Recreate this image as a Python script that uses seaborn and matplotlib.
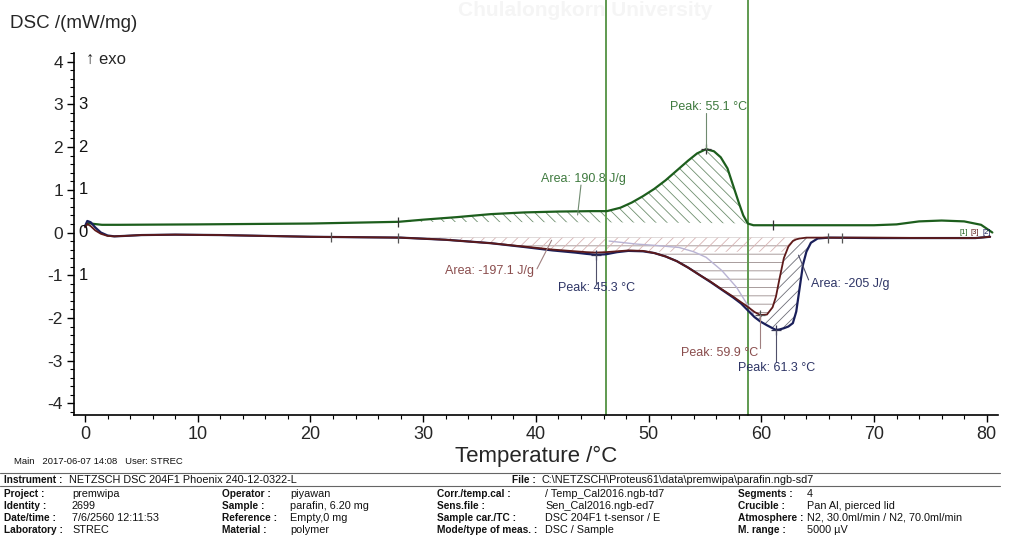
import numpy as np
import matplotlib
matplotlib.use("Agg")
import matplotlib.pyplot as plt
import seaborn as sns
from matplotlib.ticker import MultipleLocator

# ---------------- data ----------------
cool_T = [0.0, 0.3, 0.8, 1.5, 3, 10, 20, 27.8, 30, 33, 36, 39, 42, 45, 46.3, 47.5,
          48.5, 49.5, 50.5, 51.5, 52.5, 53.5, 54.3, 55.1, 55.8, 56.4, 57.0, 57.5,
          58.0, 58.4, 58.8, 59.3, 61, 65, 70, 72, 74, 76, 78, 79.5, 80.5]
cool_dsc = [0.15, 0.22, 0.2, 0.18, 0.18, 0.19, 0.21, 0.25, 0.3, 0.36, 0.43, 0.47, 0.49,
            0.5, 0.5, 0.58, 0.7, 0.85, 1.02, 1.22, 1.45, 1.68, 1.85, 1.95, 1.9, 1.76,
            1.5, 1.1, 0.7, 0.4, 0.21, 0.17, 0.17, 0.17, 0.17, 0.19, 0.26, 0.28, 0.26,
            0.18, 0.0]

heat_T = [0.0, 0.2, 0.5, 0.9, 1.4, 2.0, 2.6, 3.5, 5, 8, 12, 16, 20, 24, 28, 32, 36, 39,
          41.5, 43.5, 44.5, 45.3, 46.2, 47.2, 48.2, 49.5, 50.5, 51.5, 52.5, 53.5, 54.5,
          55.5, 56.5, 57.5, 58.2, 58.8, 59.4, 59.9, 60.5, 61.0, 61.3, 61.6, 62.0, 62.4,
          62.8, 63.1, 63.4, 63.7, 64.0, 64.4, 65.0, 66, 70, 75, 79, 80.3]
heat1_dsc = [0.12, 0.2, 0.15, 0.05, -0.03, -0.08, -0.09, -0.08, -0.06, -0.05, -0.06,
             -0.08, -0.1, -0.11, -0.12, -0.17, -0.25, -0.33, -0.4, -0.44, -0.46, -0.47,
             -0.46, -0.44, -0.42, -0.43, -0.48, -0.56, -0.67, -0.82, -0.99, -1.15, -1.33,
             -1.5, -1.63, -1.74, -1.86, -1.93, -1.92, -1.75, -1.5, -1.1, -0.6, -0.33,
             -0.2, -0.16, -0.14, -0.13, -0.12, -0.12, -0.12, -0.12, -0.12, -0.13, -0.13,
             -0.1]
heat2_dsc = [0.15, 0.27, 0.24, 0.12, 0.0, -0.07, -0.09, -0.08, -0.06, -0.05, -0.06,
             -0.08, -0.1, -0.11, -0.12, -0.17, -0.25, -0.34, -0.42, -0.47, -0.5, -0.52,
             -0.51, -0.46, -0.43, -0.44, -0.48, -0.56, -0.67, -0.82, -0.99, -1.16, -1.34,
             -1.52, -1.66, -1.82, -1.98, -2.08, -2.17, -2.24, -2.28, -2.27, -2.24, -2.2,
             -2.12, -1.85, -1.3, -0.75, -0.45, -0.24, -0.14, -0.12, -0.13, -0.13, -0.13,
             -0.1]

aux_T = [46.5, 48.9, 50.5, 52.7, 54.0, 55.1, 56.5, 57.8, 58.7, 59.3]
aux_dsc = [-0.2, -0.27, -0.3, -0.35, -0.45, -0.58, -0.89, -1.28, -1.66, -1.9]

peak_cool = (55.1, 1.95)
peak_h1 = (59.9, -1.93)
peak_h2a = (45.3, -0.52)
peak_h2b = (61.3, -2.28)
area_cool = "Area: 190.8 J/g"
area_h1 = "Area: -197.1 J/g"
area_h2 = "Area: -205 J/g"

cool_limits = [27.8, 58.8]
heat1_limits = [28.0, 63.4]
heat2_limits = [28.0, 65.0]
heat_marks_T = [21.8, 27.8, 65.9, 67.2]
cool_marks_T = [27.8, 61.0]
vlines_T = [46.2, 58.8]

x_ticks = [0, 10, 20, 30, 40, 50, 60, 70, 80]
y_ticks = [-4, -3, -2, -1, 0, 1, 2, 3, 4]
inner_labels = {3: "3", 2: "2", 1: "1", 0: "0", -1: "1"}

# ---------------- style ----------------
sns.set_theme(style="white")
plt.rcParams["font.family"] = ["Liberation Sans", "DejaVu Sans"]
plt.rcParams["hatch.linewidth"] = 0.6
plt.rcParams["axes.unicode_minus"] = False

GREEN = "#1d5e1d"
MAROON = "#5e1a1a"
NAVY = "#1a1f5a"
LAV = "#b9b3d3"
TXT_G = "#3f7a3f"
TXT_M = "#8a4d4d"
TXT_N = "#2e3566"

W, H = 1009, 539
fig = plt.figure(figsize=(W / 100, H / 100), dpi=100)
ax = fig.add_axes([74 / W, 1 - 415 / H, (998 - 74) / W, (415 - 53) / H])
ax.set_xlim(-0.98, 81.0)
ax.set_ylim(-4.27, 4.2)

hT = np.array(heat_T)
h1 = np.array(heat1_dsc)
h2 = np.array(heat2_dsc)
cT = np.array(cool_T)
cD = np.array(cool_dsc)

# hatched areas
m = (cT >= cool_limits[0]) & (cT <= cool_limits[1])
base_c = np.linspace(0.25, 0.21, m.sum())
ax.fill_between(cT[m], cD[m], base_c, facecolor="none", edgecolor="#6f8f6f",
                hatch="\\\\\\", linewidth=0)
m1 = (hT >= heat1_limits[0]) & (hT <= heat1_limits[1])
ax.fill_between(hT[m1], h1[m1], -0.12, facecolor="none", edgecolor="#9a8c8c",
                hatch="--", linewidth=0)
m2 = (hT >= heat2_limits[0]) & (hT <= heat2_limits[1])
ax.fill_between(hT[m2], np.maximum(h1[m2], -0.45), -0.12, facecolor="none",
                edgecolor="#d7b3b3", hatch="///", linewidth=0)
m3 = (hT >= 58.0) & (hT <= heat2_limits[1])
ax.fill_between(hT[m3], h2[m3], h1[m3], facecolor="none", edgecolor="#6e6e78",
                hatch="///", linewidth=0)

# vertical green lines
for t in vlines_T:
    ax.axvline(t, ymin=0, ymax=1.2, color="#5f9a50", lw=1.4, clip_on=False, zorder=1)

# curves
sns.lineplot(x=aux_T, y=aux_dsc, ax=ax, color=LAV, lw=1.0, sort=False, estimator=None)
sns.lineplot(x=cool_T, y=cool_dsc, ax=ax, color=GREEN, lw=1.6, sort=False, estimator=None)
sns.lineplot(x=heat_T, y=heat2_dsc, ax=ax, color=NAVY, lw=1.6, sort=False, estimator=None)
sns.lineplot(x=heat_T, y=heat1_dsc, ax=ax, color=MAROON, lw=1.3, sort=False, estimator=None)

# evaluation marks
ax.plot(heat_marks_T, np.interp(heat_marks_T, hT, h1), ls="none", marker="|",
        ms=7, color="#555555", mew=0.9)
ax.plot(cool_marks_T, np.interp(cool_marks_T, cT, cD), ls="none", marker="|",
        ms=7, color="#333333", mew=0.9)
for (px, py), col in [(peak_cool, "#333333"), (peak_h1, "#555555"),
                      (peak_h2a, "#333355"), (peak_h2b, "#333355")]:
    ax.plot([px], [py], ls="none", marker="+", ms=7, color=col, mew=0.9)

# annotations
fs = 9
ax.text(55.3, 2.94, f"Peak: {peak_cool[0]} °C", color=TXT_G, fontsize=fs, ha="center", va="center")
ax.plot([peak_cool[0]] * 2, [2.8, peak_cool[1]], color="#6f8a6f", lw=0.8)
ax.text(44.2, 1.25, area_cool, color=TXT_G, fontsize=fs, ha="center", va="center")
ax.plot([44.0, 43.7], [1.11, 0.41], color="#6f8a6f", lw=0.8)
ax.text(35.9, -0.9, area_h1, color=TXT_M, fontsize=fs, ha="center", va="center")
ax.plot([40.1, 41.4], [-0.85, -0.18], color="#a08080", lw=0.8)
ax.text(45.4, -1.3, f"Peak: {peak_h2a[0]} °C", color=TXT_N, fontsize=fs, ha="center", va="center")
ax.plot([peak_h2a[0]] * 2, [-1.18, peak_h2a[1]], color="#50506a", lw=0.8)
ax.text(56.3, -2.82, f"Peak: {peak_h1[0]} °C", color=TXT_M, fontsize=fs, ha="center", va="center")
ax.plot([peak_h1[0]] * 2, [-2.7, peak_h1[1]], color="#a08080", lw=0.8)
ax.text(61.4, -3.17, f"Peak: {peak_h2b[0]} °C", color=TXT_N, fontsize=fs, ha="center", va="center")
ax.plot([peak_h2b[0]] * 2, [-3.03, peak_h2b[1]], color="#50506a", lw=0.8)
ax.text(67.9, -1.21, area_h2, color=TXT_N, fontsize=fs, ha="center", va="center")
ax.plot([64.2, 63.3], [-1.11, -0.53], color="#50506a", lw=0.8)

# segment labels at right end
ax.text(77.6, 0.0, "[1]", color=GREEN, fontsize=5.5, va="center")
ax.text(78.6, 0.0, "[3]", color=MAROON, fontsize=5.5, va="center")
ax.text(79.6, 0.0, "[2]", color=NAVY, fontsize=5.5, va="center")

# axes styling
for s in ["top", "right"]:
    ax.spines[s].set_visible(False)
for s in ["left", "bottom"]:
    ax.spines[s].set_color("black")
    ax.spines[s].set_linewidth(1.2)
ax.set_xticks(x_ticks)
ax.set_yticks(y_ticks)
ax.xaxis.set_minor_locator(MultipleLocator(2))
ax.yaxis.set_minor_locator(MultipleLocator(0.2))
ax.tick_params(axis="both", which="major", direction="out", length=5, width=1.0,
               color="black", left=True, bottom=True)
ax.tick_params(axis="both", which="minor", direction="out", length=3, width=0.8,
               color="black", left=True, bottom=True)
ax.tick_params(axis="x", labelsize=13, pad=3)
ax.tick_params(axis="y", labelsize=12.5, pad=3)
ax.set_xlabel("Temperature /°C", fontsize=16, labelpad=2)
ax.set_ylabel("")
ax.grid(False)

ytr = ax.get_yaxis_transform()
for yv, lab in inner_labels.items():
    ax.text(0.005, yv, lab, transform=ytr, fontsize=12, ha="left", va="center", color="#111111")
ax.text(0.013, 4.05, "↑ exo", transform=ytr, fontsize=12, ha="left", va="center")

fig.text(10 / W, 1 - 23 / H, "DSC /(mW/mg)", fontsize=13.5, ha="left", va="center")
fig.text(0.58, 1 - 10 / H, "Chulalongkorn University", fontsize=15, fontweight="bold",
         color="#f5f5f5", ha="center", va="center", zorder=0)

# ---------------- footer / info table ----------------
def ft(x, y, s, bold=False, ha="left", size=None):
    if size is None:
        size = 7.3 if bold else 7.8
    fig.text(x / W, 1 - y / H, s, fontsize=size, fontweight="bold" if bold else "normal",
             ha=ha, va="center", color="#111111")

ft(14, 462, "Main   2017-06-07 14:08   User: STREC", size=6.8)
for yl in [473, 486]:
    fig.add_artist(plt.Line2D([0, 1000 / W], [1 - yl / H] * 2, color="#666666", lw=0.8))
ft(4, 480, "Instrument :", bold=True)
ft(69, 480, "NETZSCH DSC 204F1 Phoenix 240-12-0322-L")
ft(536, 480, "File :", bold=True, ha="right")
ft(541, 480, "C:\\NETZSCH\\Proteus61\\data\\premwipa\\parafin.ngb-sd7")

rows = [
    ("Project :", "premwipa", "Operator :", "piyawan", "Corr./temp.cal :",
     "/ Temp_Cal2016.ngb-td7", "Segments :", "4"),
    ("Identity :", "2699", "Sample :", "parafin, 6.20 mg", "Sens.file :",
     "Sen_Cal2016.ngb-ed7", "Crucible :", "Pan Al, pierced lid"),
    ("Date/time :", "7/6/2560 12:11:53", "Reference :", "Empty,0 mg", "Sample car./TC :",
     "DSC 204F1 t-sensor / E", "Atmosphere :", "N2, 30.0ml/min / N2, 70.0ml/min"),
    ("Laboratory :", "STREC", "Material :", "polymer", "Mode/type of meas. :",
     "DSC / Sample", "M. range :", "5000 µV"),
]
row_y = [494, 506, 518, 530]
lab_x = [4, 222, 437, 738]
val_x = [72, 290, 545, 807]
for yy, r in zip(row_y, rows):
    for i in range(4):
        ft(lab_x[i], yy, r[2 * i], bold=True)
        ft(val_x[i], yy, r[2 * i + 1])

fig.savefig("out.png", dpi=100)
